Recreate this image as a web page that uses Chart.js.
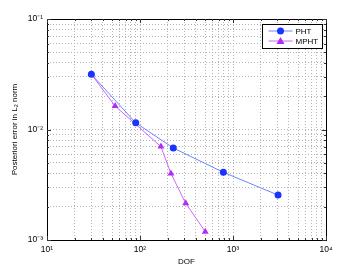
<!DOCTYPE html>
<html><head><meta charset="utf-8">
<script src="https://cdn.jsdelivr.net/npm/chart.js@4"></script>
<style>html,body{margin:0;padding:0;background:#fff}#w{width:360px;height:271px}</style>
</head><body><div id="w"><canvas id="c" width="360" height="271"></canvas></div>
<script>
const seriesNames = ["PHT", "MPHT"];
const dofPHT = [30, 90, 228, 787, 3050];
const errPHT = [0.0316, 0.0115, 0.0068, 0.0041, 0.00255];
const dofMPHT = [30, 54, 168, 215, 310, 503];
const errMPHT = [0.0316, 0.0163, 0.0070, 0.0040, 0.00215, 0.00119];
const xTickLabels = {1:"10¹",2:"10²",3:"10³",4:"10⁴"};
const yTickLabels = {"-1":"10⁻¹","-2":"10⁻²","-3":"10⁻³"};
const xTitle = "DOF";
const yTitle = "Posteriori error in L₂ norm";

const FONT = "'Liberation Sans', Arial, sans-serif";
function logTicks(lo, hi){ const t=[]; for(let e=lo;e<hi;e++){for(let m=1;m<10;m++)t.push({value:m*Math.pow(10,e)});} t.push({value:Math.pow(10,hi)}); return t; }
function isPow(v){ const l=Math.log10(v); return Math.abs(l-Math.round(l))<1e-9 ? Math.round(l) : null; }

const boxPlugin = {
  id:'box',
  afterDraw(chart){
    const {ctx, chartArea:a} = chart;
    ctx.save();
    ctx.strokeStyle='#000'; ctx.lineWidth=1;
    ctx.strokeRect(Math.round(a.left)+0.5, Math.round(a.top)+0.5, Math.round(a.right-a.left), Math.round(a.bottom-a.top));
    // inward tick marks
    const xs = chart.scales.x, ys = chart.scales.y;
    ctx.strokeStyle='#333';
    xs.ticks.forEach(t=>{ const px=Math.round(xs.getPixelForValue(t.value))+0.5; const L = isPow(t.value)!==null?4:2;
      ctx.beginPath(); ctx.moveTo(px,a.bottom); ctx.lineTo(px,a.bottom-L); ctx.moveTo(px,a.top); ctx.lineTo(px,a.top+L); ctx.stroke(); });
    ys.ticks.forEach(t=>{ const py=Math.round(ys.getPixelForValue(t.value))+0.5; const L = isPow(t.value)!==null?4:2;
      ctx.beginPath(); ctx.moveTo(a.left,py); ctx.lineTo(a.left+L,py); ctx.moveTo(a.right,py); ctx.lineTo(a.right-L,py); ctx.stroke(); });
    // legend
    const lx=262.5, ly=24.5, lw=60, lh=24;
    ctx.fillStyle='#fff'; ctx.fillRect(lx,ly,lw,lh);
    ctx.strokeStyle='#000'; ctx.strokeRect(lx,ly,lw,lh);
    const ds = chart.data.datasets;
    ds.forEach((d,i)=>{
      const y = ly+6.5+i*10;
      ctx.strokeStyle=d.borderColor; ctx.lineWidth=1;
      ctx.beginPath(); ctx.moveTo(lx+6,y); ctx.lineTo(lx+30,y); ctx.stroke();
      ctx.fillStyle=d.pointBackgroundColor;
      if(d.pointStyle==='triangle'){
        ctx.beginPath(); ctx.moveTo(lx+18,y-4); ctx.lineTo(lx+22,y+3); ctx.lineTo(lx+14,y+3); ctx.closePath(); ctx.fill();
      } else { ctx.beginPath(); ctx.arc(lx+18,y,3.5,0,Math.PI*2); ctx.fill(); }
      ctx.fillStyle='#000'; ctx.font='8px '+FONT; ctx.textBaseline='middle'; ctx.textAlign='left';
      ctx.fillText(d.label, lx+33, y+0.5);
    });
    ctx.restore();
  }
};

new Chart(document.getElementById('c'), {
  type:'line',
  data:{datasets:[
    {label:seriesNames[0], data:dofPHT.map((x,i)=>({x,y:errPHT[i]})), borderColor:'#6b86ff', borderWidth:1,
     pointStyle:'circle', pointRadius:3.5, pointBackgroundColor:'#1a33ff', pointBorderColor:'#1a33ff', pointBorderWidth:0},
    {label:seriesNames[1], data:dofMPHT.map((x,i)=>({x,y:errMPHT[i]})), borderColor:'#cc66ff', borderWidth:1,
     pointStyle:'triangle', pointRadius:4, pointBackgroundColor:'#b42af8', pointBorderColor:'#b42af8', pointBorderWidth:0}
  ]},
  options:{
    responsive:false, animation:false, devicePixelRatio:1,
    layout:{padding:{top:19,right:34,left:0,bottom:4}},
    plugins:{legend:{display:false}, tooltip:{enabled:false}},
    scales:{
      x:{type:'logarithmic', min:10, max:10000,
        afterBuildTicks(s){ s.ticks = logTicks(1,4); },
        afterFit(s){ s.height = 27; },
        ticks:{autoSkip:false, maxRotation:0, padding:5, color:'#000', font:{family:FONT,size:8.5},
          callback(v){ const p=isPow(v); return p!==null? xTickLabels[p] : ''; }},
        grid:{color:'#b4b4b4', lineWidth:1, drawTicks:false},
        border:{display:false, dash:[1,2]},
        title:{display:true, text:xTitle, color:'#000', font:{family:FONT,size:8}, padding:{top:1,bottom:0}}
      },
      y:{type:'logarithmic', min:0.001, max:0.1,
        afterBuildTicks(s){ s.ticks = logTicks(-3,-1); },
        afterFit(s){ s.width = 47; },
        ticks:{autoSkip:false, padding:4, color:'#000', font:{family:FONT,size:8.5},
          callback(v){ const p=isPow(v); return p!==null? yTickLabels[p] : ''; }},
        grid:{color:'#b4b4b4', lineWidth:1, drawTicks:false},
        border:{display:false, dash:[1,2]},
        title:{display:true, text:yTitle, color:'#000', font:{family:FONT,size:8}, padding:{top:10,bottom:4}}
      }
    }
  },
  plugins:[boxPlugin]
});
</script></body></html>
